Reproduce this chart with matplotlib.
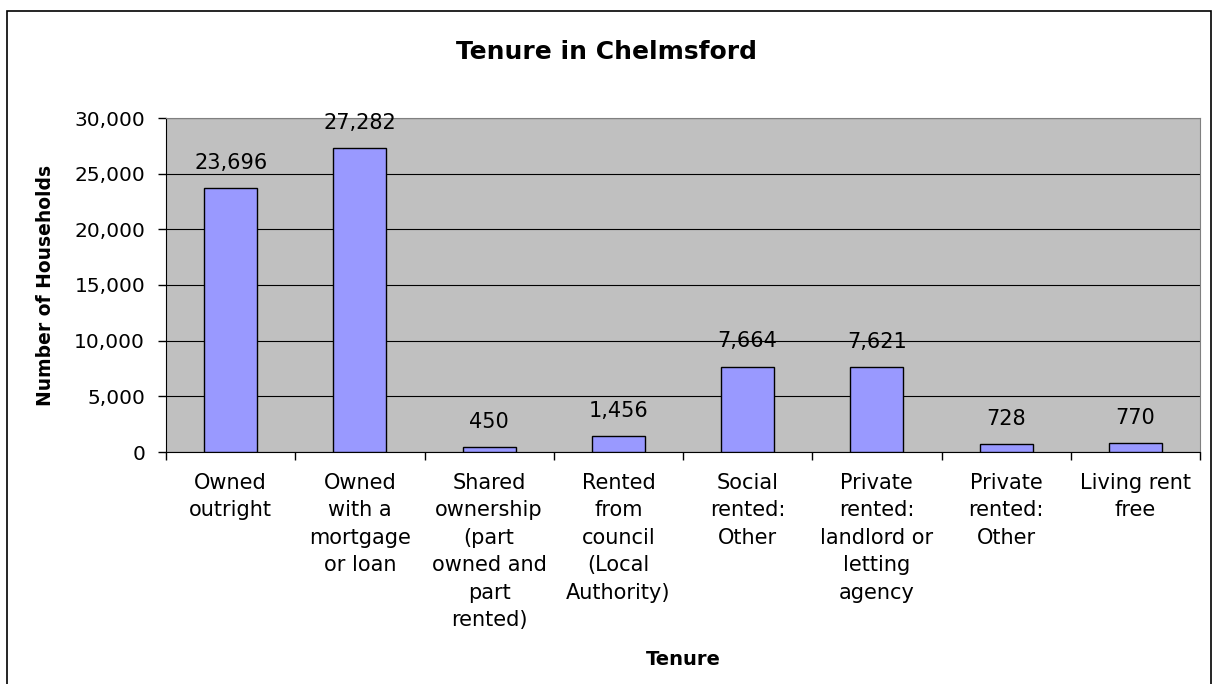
import numpy as np
from matplotlib import pyplot as plt
from matplotlib.patches import Rectangle

categories = ['Owned\noutright', 'Owned\nwith a\nmortgage\nor loan',
              'Shared\nownership\n(part\nowned and\npart\nrented)',
              'Rented\nfrom\ncouncil\n(Local\nAuthority)', 'Social\nrented:\nOther',
              'Private\nrented:\nlandlord or\nletting\nagency', 'Private\nrented:\nOther',
              'Living rent\nfree']
households = [23696, 27282, 450, 1456, 7664, 7621, 728, 770]
yticks = [0, 5000, 10000, 15000, 20000, 25000, 30000]

plt.rcParams['font.family'] = ['DejaVu Sans']

fig = plt.figure(figsize=(12.14, 6.84), dpi=100)
# chart border
fig.patches.append(Rectangle((7/1214, -0.05), 1204/1214, 1.05 - 11/684, transform=fig.transFigure,
                             fill=False, edgecolor='black', linewidth=1.2))

ax = fig.add_axes([166/1214, 1 - 452/684, 1034/1214, 334/684])
ax.set_facecolor('#C0C0C0')

x = np.arange(len(categories))
bars = ax.bar(x, households, width=0.41, color='#9999FF', edgecolor='black', linewidth=1, zorder=3)
for xi, v in zip(x, households):
    ax.annotate(f'{v:,}', (xi, v), xytext=(0, 11), textcoords='offset points',
                ha='center', va='bottom', fontsize=15)

ax.set_xlim(-0.5, len(categories) - 0.5)
ax.set_ylim(0, 30000)
ax.set_yticks(yticks)
ax.set_yticklabels([f'{t:,}' for t in yticks], fontsize=14.5)
ax.yaxis.grid(True, color='black', linewidth=0.8, zorder=0)
ax.set_axisbelow(True)

ax.set_xticks(x)
ax.set_xticklabels(categories, fontsize=15, linespacing=1.47)
ax.set_xticks(np.arange(len(categories) + 1) - 0.5, minor=True)
ax.tick_params(axis='x', which='major', length=0, pad=15)
ax.tick_params(axis='x', which='minor', length=6, width=1, direction='out')
ax.tick_params(axis='y', length=6, width=1, pad=9)

for s in ['top', 'right']:
    ax.spines[s].set_color('#808080')
for s in ['left', 'bottom']:
    ax.spines[s].set_color('black')

ax.set_ylabel('Number of Households', fontsize=13.5, fontweight='bold', labelpad=14)
ax.set_xlabel('Tenure', fontsize=14, fontweight='bold', labelpad=14)
fig.text(0.5, 1 - 52/684, 'Tenure in Chelmsford', ha='center', va='center',
         fontsize=18, fontweight='bold')

plt.savefig('out.png', dpi=100)
